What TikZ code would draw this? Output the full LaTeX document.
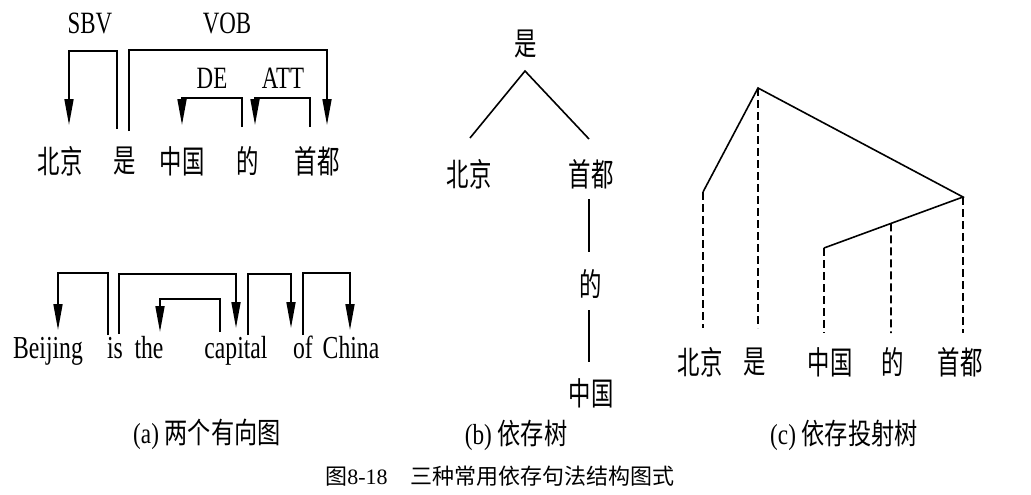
\documentclass[tikz,border=0pt]{standalone}
\usepackage{fontspec}
\setmainfont{Liberation Serif}
\newfontfamily\cjk{Noto Sans CJK SC}
\usetikzlibrary{arrows.meta,calc}
\tikzset{
  wordnode/.style={inner sep=0pt, font=\fontsize{32}{32}\selectfont},
  lblnode/.style={inner sep=0pt, font=\fontsize{31}{31}\selectfont},
  captxt/.style={inner sep=0pt, font=\fontsize{29}{29}\selectfont},
  deparc/.style={line width=1.7pt, -{Triangle[length=26pt,width=9pt]}},
  treeline/.style={line width=1.6pt},
  projline/.style={line width=1.6pt, dash pattern=on 8pt off 4pt},
}
\newcommand{\cn}[1]{\scalebox{0.70}[1]{\cjk #1}}
\newcommand{\lt}[1]{\scalebox{0.74}[1]{#1}}
\begin{document}
\begin{tikzpicture}[x=1pt,y=-1pt]
\useasboundingbox (0,0) rectangle (1031,495);
% ---------- (a) Chinese ----------
\node[wordnode] (a1) at (60,161) {\cn{北京}};
\node[wordnode] (a2) at (125,161) {\cn{是}};
\node[wordnode] (a3) at (182,161) {\cn{中国}};
\node[wordnode] (a4) at (248,161) {\cn{的}};
\node[wordnode] (a5) at (317,161) {\cn{首都}};
\node[lblnode] (lsbv) at (90,23) {\lt{SBV}};
\node[lblnode] (lvob) at (227,23) {\lt{VOB}};
\node[lblnode] (lde) at (212,78) {\lt{DE}};
\node[lblnode] (latt) at (283,78) {\lt{ATT}};
\coordinate (sbvS) at (117,129); \coordinate (sbvE) at (69,125);
\coordinate (vobS) at (129,131); \coordinate (vobE) at (327,125);
\coordinate (deS) at (242,127);  \coordinate (deE) at (182,125);
\coordinate (attS) at (310,127); \coordinate (attE) at (255,125);
\draw[deparc] (sbvS) -- ++(0,-78) -| (sbvE);
\draw[deparc] (vobS) -- ++(0,-81) -| (vobE);
\draw[deparc] (deS) -- ++(0,-29) -| (deE);
\draw[deparc] (attS) -- ++(0,-29) -| (attE);
% ---------- (a) English ----------
\node[wordnode, anchor=base] (e1) at (48,358) {\lt{Beijing}};
\node[wordnode, anchor=base] (e2) at (115,358) {\lt{is}};
\node[wordnode, anchor=base] (e3) at (149,358) {\lt{the}};
\node[wordnode, anchor=base] (e4) at (236,358) {\lt{capital}};
\node[wordnode, anchor=base] (e5) at (303,358) {\lt{of}};
\node[wordnode, anchor=base] (e6) at (351,358) {\lt{China}};
\coordinate (r1S) at (108,335); \coordinate (r1E) at (58,330);
\coordinate (r2S) at (119,334); \coordinate (r2E) at (236,328);
\coordinate (r3S) at (220,332); \coordinate (r3E) at (160,332);
\coordinate (r4S) at (248,335); \coordinate (r4E) at (291,328);
\coordinate (r5S) at (303,335); \coordinate (r5E) at (350,330);
\draw[deparc] (r1S) -- (108,273) -| (r1E);
\draw[deparc] (r2S) -- (119,274) -| (r2E);
\draw[deparc] (r3S) -- (220,299) -| (r3E);
\draw[deparc] (r4S) -- (248,274) -| (r4E);
\draw[deparc] (r5S) -- (303,273) -| (r5E);
% ---------- (b) ----------
\node[wordnode] (b1) at (526,44) {\cn{是}};
\node[wordnode] (b2) at (469,174) {\cn{北京}};
\node[wordnode] (b3) at (591,174) {\cn{首都}};
\node[wordnode] (b4) at (591,284) {\cn{的}};
\node[wordnode] (b5) at (591,393) {\cn{中国}};
\coordinate (bTop) at (525,71);
\coordinate (bL) at (470,138);
\coordinate (bR) at (589,139);
\coordinate (bV1) at (589,199); \coordinate (bV2) at (589,252);
\coordinate (bV3) at (589,310); \coordinate (bV4) at (589,362);
\draw[treeline] (bL) -- (bTop) -- (bR);
\draw[treeline] (bV1) -- (bV2);
\draw[treeline] (bV3) -- (bV4);
% ---------- (c) ----------
\node[wordnode] (c1) at (700,362) {\cn{北京}};
\node[wordnode] (c2) at (755,362) {\cn{是}};
\node[wordnode] (c3) at (830,362) {\cn{中国}};
\node[wordnode] (c4) at (893,362) {\cn{的}};
\node[wordnode] (c5) at (960,362) {\cn{首都}};
\coordinate (pA) at (758,88);
\coordinate (pB) at (703,192);
\coordinate (pC) at (963,197);
\coordinate (pD) at (824,248);
\coordinate (pE) at ($(pD)!0.482!(pC)$);
\coordinate (qB) at (703,328);
\coordinate (qA) at (758,328);
\coordinate (qD) at (824,333);
\coordinate (qE) at (891,333);
\coordinate (qC) at (963,333);
\draw[treeline] (pB) -- (pA) -- (pC) -- (pD);
\draw[projline] (pB) -- (qB);
\draw[projline] (pA) -- (qA);
\draw[projline] (pD) -- (qD);
\draw[projline] (pE) -- (qE);
\draw[projline] (pC) -- (qC);
% ---------- captions ----------
\node[captxt] (capa) at (207,434) {\scalebox{0.8}[1]{(a) {\cjk 两个有向图}}};
\node[captxt] (capb) at (516,435) {\scalebox{0.8}[1]{(b) {\cjk 依存树}}};
\node[captxt] (capc) at (844,435) {\scalebox{0.8}[1]{(c) {\cjk 依存投射树}}};
\node[inner sep=0pt, font=\fontsize{22}{22}\selectfont] (fig) at (500,476) {{\cjk 图}8-18\hspace{23pt}{\cjk 三种常用依存句法结构图式}};
\end{tikzpicture}
\end{document}
